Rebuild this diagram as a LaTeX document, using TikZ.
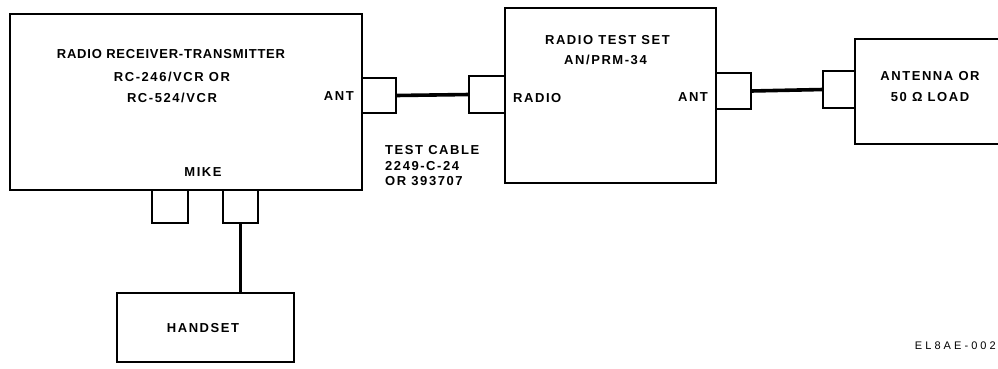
\documentclass[tikz,border=0pt]{standalone}
\usepackage{fontspec}
\newfontfamily\labfont[LetterSpace=12]{Liberation Sans Bold}
\newfontfamily\rtfont[LetterSpace=6]{Liberation Sans Bold}
\newfontfamily\tagfont[LetterSpace=28]{Liberation Sans}
\tikzset{
  box/.style={draw, line width=1.8pt, minimum width=#1, inner sep=0pt, outer sep=0pt},
  conn/.style={draw, line width=1.8pt, inner sep=0pt, outer sep=0pt},
  cable/.style={line width=3.6pt},
  lbl/.style={inner sep=0pt, font=\labfont\fontsize{13}{15}\selectfont},
  rtlbl/.style={inner sep=0pt, font=\rtfont\fontsize{13}{15}\selectfont},
}
\begin{document}
\begin{tikzpicture}[x=1pt,y=-1pt]
\useasboundingbox (0,0) rectangle (998,368);
% boxes
\node[box=352, minimum height=176] (rt) at (186,102) {};
\node[box=211, minimum height=175] (ts) at (610.5,95.5) {};
\node[box=150, minimum height=105] (ant) at (930,91.5) {};
\node[box=177, minimum height=69] (hs) at (205.5,327.5) {};
% connectors
\node[conn, minimum width=34, minimum height=35] (rtant) at (379,95.5) {};
\node[conn, minimum width=36, minimum height=37] (tsradio) at (487,94.5) {};
\node[conn, minimum width=35, minimum height=36] (tsant) at (733.5,91) {};
\node[conn, minimum width=32, minimum height=37] (antin) at (839,89.5) {};
\node[conn, minimum width=36, minimum height=33] (mike1) at (170,206.5) {};
\node[conn, minimum width=35, minimum height=33] (mike2) at (240.5,206.5) {};
% cables
\draw[cable] (rtant.east) -- (tsradio.west);
\draw[cable] (tsant.east) -- (antin.west);
\draw[cable] (mike2.south) -- (mike2.south |- hs.north);
% labels
\node[rtlbl] (t1) at (171,54) {RADIO RECEIVER-TRANSMITTER};
\node[lbl] (t2) at (172,77) {RC-246/VCR OR};
\node[lbl] (t3) at (172,98) {RC-524/VCR};
\node[lbl, anchor=east] (t4) at (354,96) {ANT};
\node[lbl] (t5) at (203,172) {MIKE};
\node[lbl] (t6) at (607.5,40) {RADIO TEST SET};
\node[lbl] (t7) at (605.5,60) {AN/PRM-34};
\node[lbl, anchor=west] (t8) at (513,98) {RADIO};
\node[lbl] (t9) at (693,97) {ANT};
\node[lbl] (t10) at (930,76) {ANTENNA OR};
\node[lbl] (t11) at (930,97) {50 Ω LOAD};
\node[lbl, anchor=west] (t12) at (385,150) {TEST CABLE};
\node[lbl, anchor=west] (t13) at (385,166) {2249-C-24};
\node[lbl, anchor=west] (t14) at (385,181) {OR 393707};
\node[lbl] (t15) at (203,328) {HANDSET};
\node[inner sep=0pt, anchor=east, font=\tagfont\fontsize{11}{13}\selectfont] (t16) at (996,346) {EL8AE-002};
\end{tikzpicture}
\end{document}
